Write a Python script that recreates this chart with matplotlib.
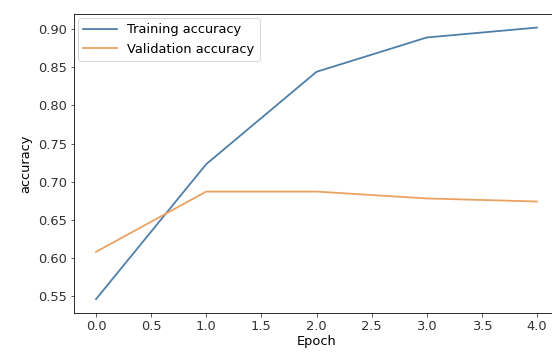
import matplotlib
matplotlib.use("Agg")
import matplotlib.pyplot as plt

# Valores
epocas = [0, 1, 2, 3, 4]
acc_treino = [0.546, 0.723, 0.844, 0.889, 0.902]
acc_validacao = [0.608, 0.687, 0.687, 0.678, 0.674]

plt.rcParams["font.size"] = 13

fig = plt.figure(figsize=(552 / 72, 353 / 72), dpi=72)
# eixo vai um pouco além da borda direita, como na imagem original (recortada)
ax = fig.add_axes([74 / 552, 1 - 312.7 / 353, (559 - 74) / 552, (312.7 - 14) / 353])

ax.plot(epocas, acc_treino, label="Training accuracy", color="#4f7fa8", linewidth=1.8)
ax.plot(epocas, acc_validacao, label="Validation accuracy", color="#eaa262", linewidth=1.8)

ax.set_xlabel("Epoch", labelpad=2)
ax.set_ylabel("accuracy", labelpad=6)
ax.tick_params(colors="#333333")
ax.legend(loc="upper left", handlelength=2.6, borderaxespad=0.3)

fig.savefig("out.png", dpi=72)
